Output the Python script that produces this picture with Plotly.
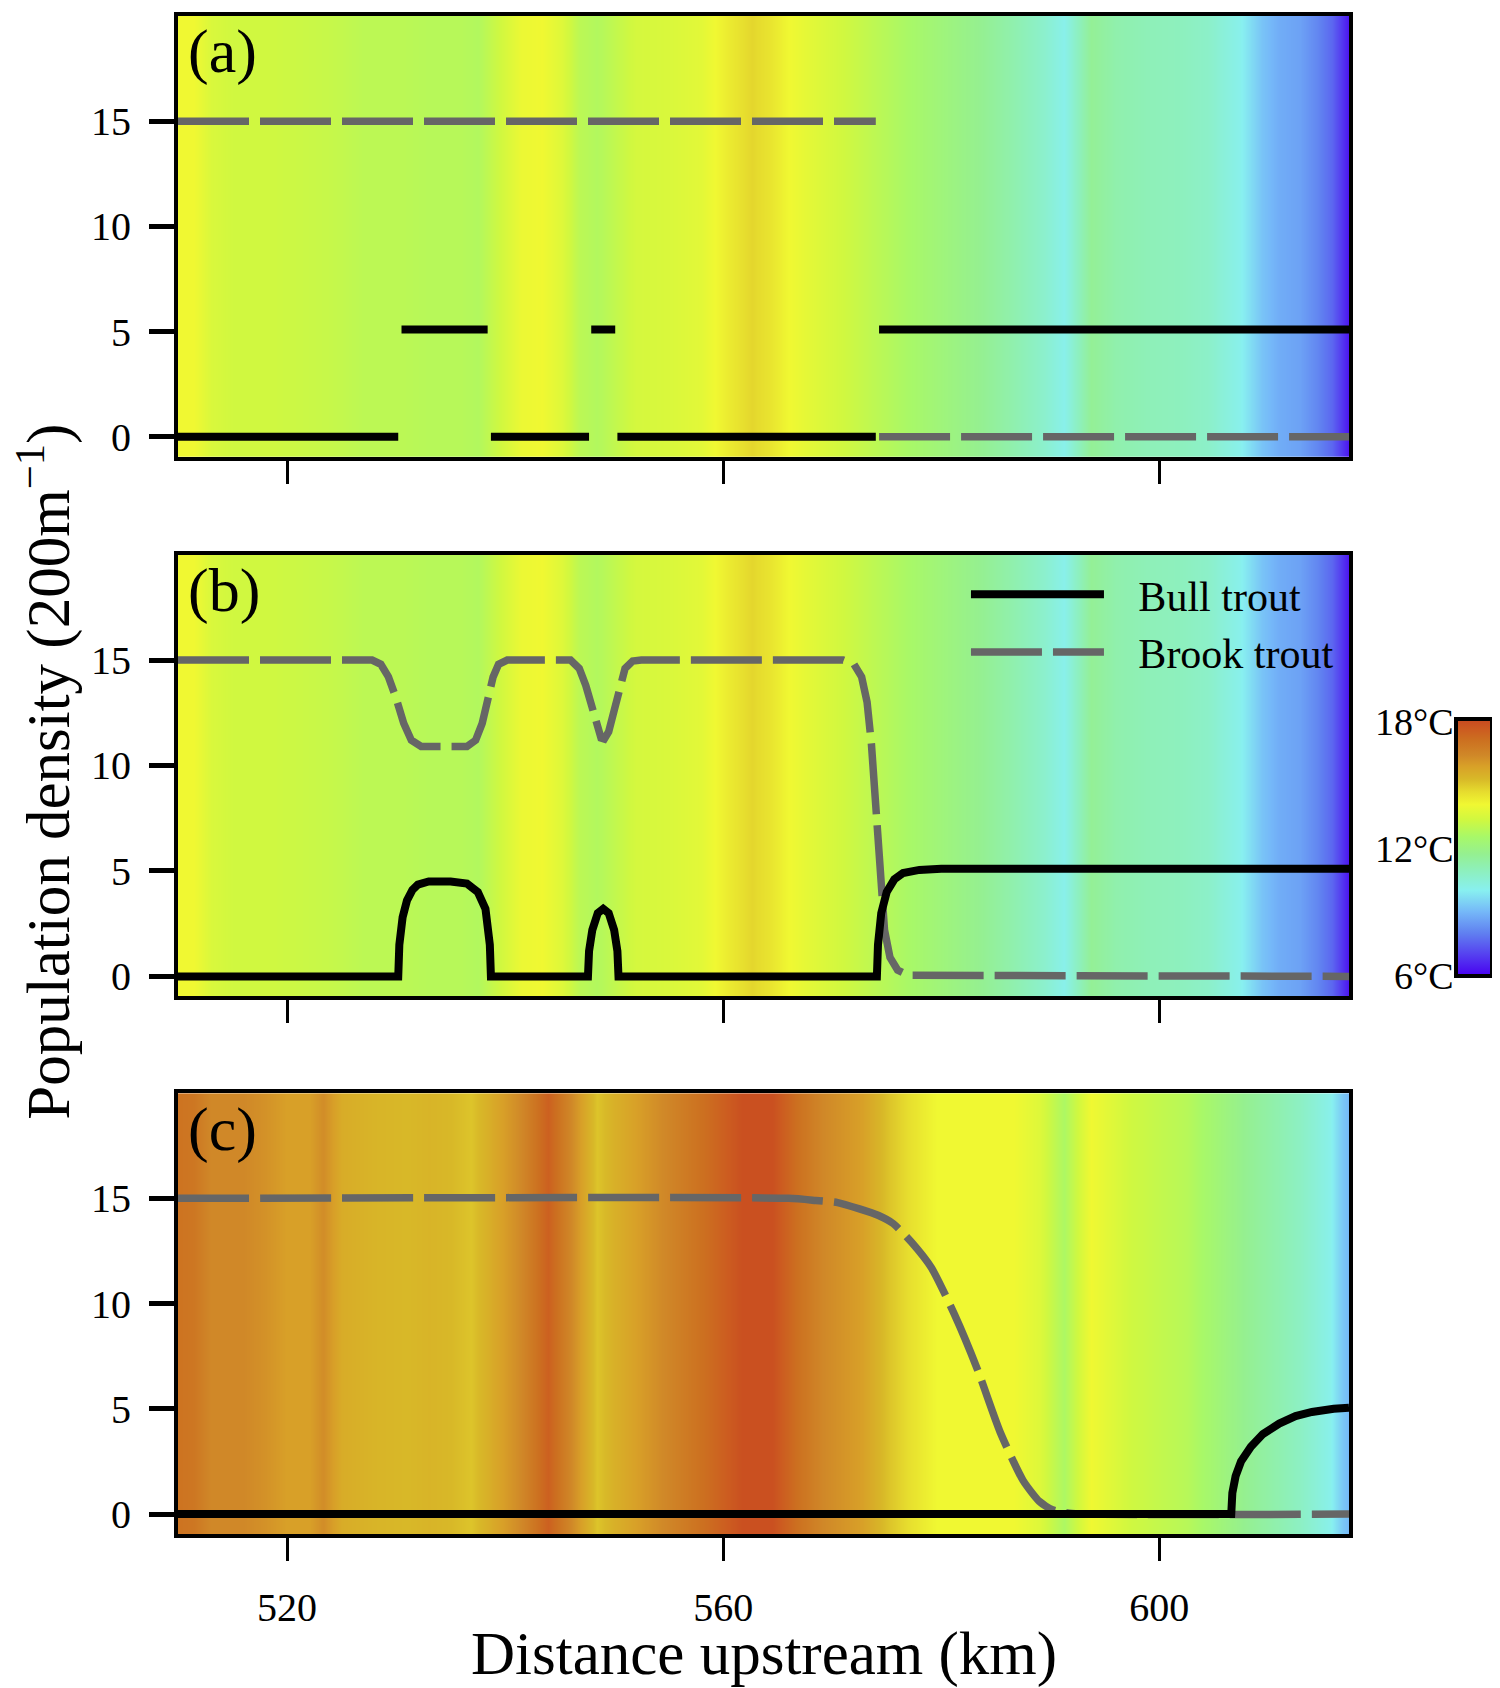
import plotly.graph_objects as go

# ---------------- data ----------------
# stream temperature (deg C) along the river, panels (a) and (b)
temp_km_ab = [510, 511.5, 513, 515, 518, 521, 524, 527, 530, 533, 536, 537.5, 539.5, 541.5,
              543.4, 545.2, 546.8, 548.4, 550, 552, 555, 558, 560.5, 562.6, 564.5, 566, 568,
              571, 574, 578, 581, 583.5, 586.5, 589.5, 591.3, 593.7, 596, 599, 602, 604.5,
              607.3, 609.4, 611, 612.9, 614.6, 615.8, 616.6, 617.4]
temp_ab = [14.0, 14.0, 13.5, 13.3, 13.3, 13.2, 13.1, 12.9, 12.9, 12.8, 12.8, 12.7, 13.3, 13.9,
           14.0, 13.6, 12.9, 12.7, 13.0, 13.4, 13.5, 13.7, 14.3, 14.7, 14.4, 14.0, 13.7,
           13.3, 12.9, 12.4, 12.0, 11.7, 11.2, 10.6, 10.1, 11.6, 11.2, 11.0, 10.9, 10.7,
           10.1, 9.2, 8.8, 8.6, 8.1, 7.6, 7.0, 6.3]

# stream temperature (deg C), panel (c)
temp_km_c = [510, 511.5, 513, 516, 518, 520, 522, 523.3, 525, 528, 531, 533, 535, 536.9,
             539.7, 541.5, 543.9, 546, 548.4, 550, 552, 555.6, 559.1, 561.7, 564.5, 566.8,
             569.2, 572.7, 575.2, 577.2, 579.6, 583, 586.7, 589, 591.3, 593.7, 597.2, 602.5,
             607.8, 612.9, 615.7, 616.8, 617.4]
temp_c = [16.9, 16.8, 16.3, 16.3, 16.1, 15.8, 15.8, 16.2, 15.5, 15.3, 15.2, 15.3, 15.2, 15.0,
          15.8, 16.3, 17.4, 16.3, 15.0, 15.4, 15.8, 16.5, 17.2, 17.8, 17.8, 17.0,
          16.3, 15.8, 15.0, 14.5, 14.0, 14.0, 14.0, 13.6, 12.6, 14.0, 13.3, 12.8,
          11.7, 10.8, 10.1, 9.3, 9.0]

# panel (a) population densities (None = break between segments)
bull_a_x = [510, 530.2, None, 530.5, 538.4, None, 538.7, 547.7, None, 547.9, 550.1, None,
            550.3, 574.0, None, 574.3, 617.4]
bull_a_y = [0, 0, None, 5.1, 5.1, None, 0, 0, None, 5.1, 5.1, None,
            0, 0, None, 5.1, 5.1]
brook_a_x = [510, 574.0, None, 574.3, 617.4]
brook_a_y = [15, 15, None, 0, 0]

# panel (b)
brook_b_x = [510, 527.8, 528.6, 529.3, 530, 530.7, 531.4, 532.3, 536.5, 537.3, 537.9, 538.4,
             538.9, 539.4, 540.2, 546, 546.8, 547.4, 547.9, 548.4, 548.8, 549.1, 549.5, 550,
             550.5, 551, 551.7, 552.5, 571, 572, 572.7, 573.2, 573.6, 574, 574.4, 574.8,
             575.3, 576, 577, 617.4]
brook_b_y = [15, 15, 14.8, 14.2, 13.2, 12.0, 11.2, 10.9, 10.9, 11.2, 12.0, 13.2,
             14.2, 14.8, 15, 15, 14.6, 13.8, 12.8, 11.8, 11.3, 11.25, 11.6, 12.6,
             13.8, 14.6, 14.95, 15, 15, 14.8, 14.2, 13.0, 11.0, 8.0, 4.5, 2.2,
             0.9, 0.3, 0.05, 0]
bull_b_x = [510, 530.2, 530.3, 530.6, 531, 531.5, 532, 533, 535, 536.5, 537.5, 538.2, 538.6,
            538.7, 547.6, 547.7, 548, 548.5, 549, 549.5, 550, 550.3, 550.4, 574.1, 574.2,
            574.5, 575, 575.7, 576.5, 578, 580, 617.4]
bull_b_y = [0, 0, 1.5, 2.8, 3.6, 4.1, 4.35, 4.5, 4.5, 4.4, 4.0, 3.2, 1.5,
            0, 0, 1.2, 2.2, 3.0, 3.2, 3.0, 2.2, 1.2, 0, 0, 1.5,
            3.0, 4.0, 4.6, 4.9, 5.05, 5.1, 5.1]

# panel (c)
brook_c_x = [510, 566, 568.5, 570.5, 572.5, 574.2, 575.6, 577.3, 579.1, 581.2, 583.3, 585.4,
             587.5, 589, 590.2, 592, 617.4]
brook_c_y = [15, 15, 14.9, 14.8, 14.5, 14.2, 13.8, 12.9, 11.7, 9.5, 6.9, 3.9,
             1.6, 0.6, 0.2, 0.03, 0]
bull_c_x = [510, 606.6, 606.7, 607.0, 607.5, 608.4, 609.5, 611, 612.5, 614, 616, 617.4]
bull_c_y = [0, 0, 1.0, 1.8, 2.5, 3.2, 3.8, 4.3, 4.65, 4.85, 5.0, 5.05]

x_ticks = [520, 560, 600]
y_ticks = [0, 5, 10, 15]
panel_labels = ["(a)", "(b)", "(c)"]
cbar_labels = ["18°C", "12°C", "6°C"]
cbar_values = [18, 12, 6]
series_names = ["Bull trout", "Brook trout"]

# ---------------- styling ----------------
FONT = "Liberation Serif"
OFF = 8                      # default page margin of the html body
W, H = 1500 - OFF, 1688 - OFF
ML, MR, MT, MB = 178 - OFF, 145, 12 - OFF, 154
PW = W - ML - MR
PH = H - MT - MB
X_RANGE = [510, 617.4]
Y_RANGE = [-0.95, 20]
CMIN, CMAX = 6, 18

colorscale = [
    [0.000, "#4800f0"], [0.083, "#5540f0"], [0.167, "#6080f0"], [0.250, "#75b8f8"],
    [0.333, "#88f0f0"], [0.417, "#8ef0b8"], [0.475, "#95f090"], [0.542, "#a8f868"],
    [0.608, "#d0f840"], [0.667, "#f0f832"], [0.717, "#e6dc2e"], [0.767, "#d8b828"],
    [0.817, "#d8a028"], [0.858, "#d08828"], [0.917, "#cc7020"], [0.958, "#cc5c20"],
    [1.000, "#c84820"],
]

# panel boxes in page pixels (top, bottom)
panel_px = [(12, 454), (552, 995), (1092, 1534)]


def py(pix):  # page pixel y -> paper y
    return (1534 - pix) / PH


def px(pix):  # page pixel x -> paper x
    return (pix - 178) / PW


fig = go.Figure()

profiles = [(temp_km_ab, temp_ab), (temp_km_ab, temp_ab), (temp_km_c, temp_c)]
lines = [
    ((brook_a_x, brook_a_y), (bull_a_x, bull_a_y)),
    ((brook_b_x, brook_b_y), (bull_b_x, bull_b_y)),
    ((brook_c_x, brook_c_y), (bull_c_x, bull_c_y)),
]
brook_shape = ["linear", "linear", "spline"]
LEG_PAD = "\u00a0\u00a0\u2009"

for i in range(3):
    xa = "x" if i == 0 else f"x{i+1}"
    ya = "y" if i == 0 else f"y{i+1}"
    km, tt = profiles[i]
    fig.add_trace(go.Heatmap(
        x=km, y=[Y_RANGE[0] - 1, Y_RANGE[1] + 1], z=[tt, tt],
        coloraxis="coloraxis", zsmooth="best", xaxis=xa, yaxis=ya,
        hoverinfo="skip",
    ))
    (bx, by), (ux, uy) = lines[i]
    fig.add_trace(go.Scatter(
        x=bx, y=by, mode="lines", xaxis=xa, yaxis=ya,
        line=dict(color="#666666", width=7.5, dash="71px,11px", shape=brook_shape[i],
                  smoothing=0.6),
        name=LEG_PAD + series_names[1], showlegend=(i == 1), legendrank=2,
        connectgaps=False,
    ))
    fig.add_trace(go.Scatter(
        x=ux, y=uy, mode="lines", xaxis=xa, yaxis=ya,
        line=dict(color="black", width=8),
        name=LEG_PAD + series_names[0], showlegend=(i == 1), legendrank=1,
        connectgaps=False,
    ))

layout = dict(
    width=W, height=H,
    margin=dict(l=ML, r=MR, t=MT, b=MB),
    paper_bgcolor="white", plot_bgcolor="white",
    font=dict(family=FONT, size=40, color="black"),
    showlegend=True,
    legend=dict(
        x=px(970), y=py(558), xanchor="left", yanchor="top",
        bgcolor="rgba(0,0,0,0)", borderwidth=0,
        font=dict(family=FONT, size=42, color="black"),
        itemwidth=133, traceorder="normal",
    ),
    coloraxis=dict(
        cmin=CMIN, cmax=CMAX, colorscale=colorscale,
        colorbar=dict(
            x=px(1463), xanchor="left", y=py(846), yanchor="middle",
            len=257, lenmode="pixels", thickness=36, thicknessmode="pixels",
            outlinewidth=4, outlinecolor="black",
            showticklabels=False, ticks="", xpad=0, ypad=0,
        ),
    ),
)

for i in range(3):
    top, bot = panel_px[i]
    xkey = "xaxis" if i == 0 else f"xaxis{i+1}"
    ykey = "yaxis" if i == 0 else f"yaxis{i+1}"
    ya = "y" if i == 0 else f"y{i+1}"
    xa = "x" if i == 0 else f"x{i+1}"
    layout[xkey] = dict(
        domain=[0, 1], anchor=ya, range=X_RANGE, tickvals=x_ticks,
        ticks="outside", ticklen=23, tickwidth=3, tickcolor="black",
        showline=True, mirror=True, linewidth=4, linecolor="black",
        showgrid=False, zeroline=False, showticklabels=(i == 2),
        tickfont=dict(family=FONT, size=40), ticklabelstandoff=12,
    )
    layout[ykey] = dict(
        domain=[py(bot), py(top)], anchor=xa, range=Y_RANGE, tickvals=y_ticks,
        ticks="outside", ticklen=25, tickwidth=5, tickcolor="black",
        showline=True, mirror=True, linewidth=4, linecolor="black",
        showgrid=False, zeroline=False,
        tickfont=dict(family=FONT, size=40), ticklabelstandoff=10,
    )

fig.update_layout(**layout)

annotations = []
for i in range(3):
    top, bot = panel_px[i]
    annotations.append(dict(
        text=panel_labels[i], x=px(186), y=py(top + 36), xref="paper", yref="paper",
        xanchor="left", yanchor="middle", showarrow=False,
        font=dict(family=FONT, size=62, color="black"),
    ))

cb_top, cb_bot = 720, 975
for lab, val in zip(cbar_labels, cbar_values):
    ypix = cb_bot - (val - CMIN) / (CMAX - CMIN) * (cb_bot - cb_top)
    annotations.append(dict(
        text=lab, x=px(1463), y=py(ypix), xref="paper", yref="paper",
        xanchor="right", yanchor="middle", showarrow=False,
        font=dict(family=FONT, size=38, color="black"),
    ))

annotations.append(dict(
    text="Distance upstream (km)", x=0.5, y=py(1654), xref="paper", yref="paper",
    xanchor="center", yanchor="middle", showarrow=False,
    font=dict(family=FONT, size=61, color="black"),
))
annotations.append(dict(
    text="Population density (200m<sup>−1</sup>)", x=px(44), y=py(770),
    xref="paper", yref="paper", xanchor="center", yanchor="middle",
    textangle=-90, showarrow=False,
    font=dict(family=FONT, size=61, color="black"),
))
fig.update_layout(annotations=annotations)

fig.write_html("out.html")
